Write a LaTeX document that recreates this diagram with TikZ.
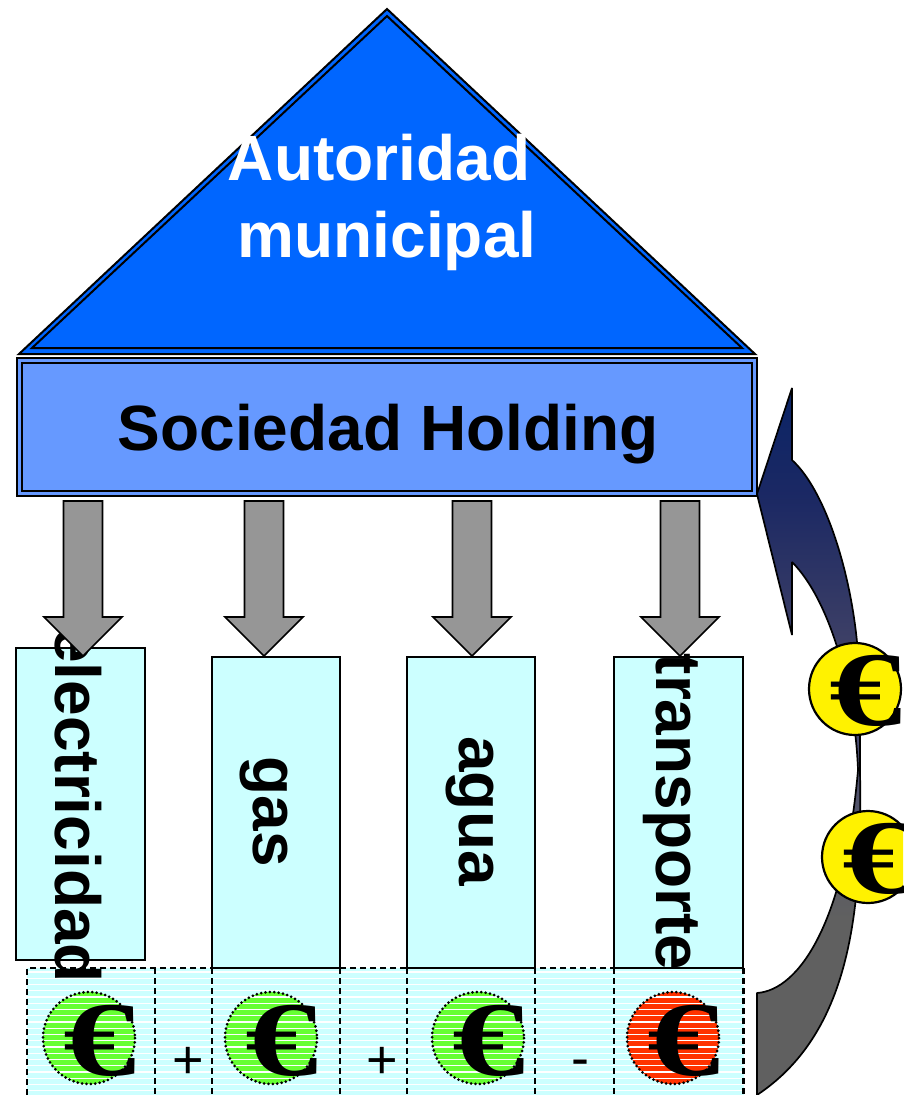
\documentclass[tikz,border=0pt]{standalone}
\usepackage{fontspec}
\setmainfont{Liberation Sans}
\newfontfamily\eurofont{Liberation Serif}
\definecolor{triblue}{HTML}{0066FF}
\definecolor{rectblue}{HTML}{6699FF}
\definecolor{boxcyan}{HTML}{CCFFFF}
\definecolor{arrowgray}{HTML}{969696}
\definecolor{coingreen}{HTML}{66FF33}
\definecolor{coinred}{HTML}{FF3300}
\pgfdeclareverticalshading{curveshade}{100bp}{
  rgb(0bp)=(0.376,0.376,0.376);
  rgb(25bp)=(0.376,0.376,0.376);
  rgb(37.5bp)=(0.376,0.376,0.376);
  rgb(50bp)=(0.29,0.30,0.44);
  rgb(57bp)=(0.24,0.25,0.40);
  rgb(67bp)=(0.11,0.16,0.39);
  rgb(75bp)=(0.04,0.14,0.40);
  rgb(100bp)=(0.04,0.14,0.40)}
\newcommand{\blockarrow}[1]{%
  \draw[blockarrow] (#1-19.5,501) -- (#1+19.5,501) -- (#1+19.5,617) -- (#1+39,617) -- (#1,656) -- (#1-39,617) -- (#1-19.5,617) -- cycle;}
\tikzset{
  x=1pt,y=-1pt,
  blockarrow/.style={draw=black,fill=arrowgray,line width=1.7pt,line join=miter},
  servicebox/.style={draw=black,fill=boxcyan,line width=1.4pt},
  big/.style={font=\fontsize{64}{74}\selectfont\bfseries},
  vert/.style={big,rotate=-90,anchor=base,inner sep=0pt},
  euro/.style={font=\eurofont\fontsize{106}{106}\selectfont\bfseries,inner sep=0pt,xscale=1.38},
  dashline/.style={draw=black,line width=1.6pt,dash pattern=on 6pt off 4pt},
  coinring/.style={draw=black,line width=3pt,dash pattern=on 0pt off 4.4pt,line cap=round},
  yellowcoin/.style={circle,draw=black,fill=yellow,line width=2.2pt,minimum size=92pt,inner sep=0pt},
  sign/.style={font=\fontsize{54}{54}\selectfont,inner sep=0pt,anchor=base},
  doubleline/.style={draw=black,line width=2pt,line join=miter},
  curveline/.style={line width=1.7pt,line join=bevel},
}
\begin{document}
\begin{tikzpicture}
\useasboundingbox (0,0) rectangle (903,1095);
\clip (0,0) rectangle (903,1095);
% curved arrow
\path[shading=curveshade] (757,494) -- (792,388) -- (792,460)
  .. controls (825,490) and (850,570) .. (857,642)
  .. controls (860,690) and (860,730) .. (860,770)
  .. controls (862,900) and (855,1030) .. (757,1095)
  -- (757,993)
  .. controls (800,990) and (845,920) .. (858,770)
  .. controls (855,690) and (830,600) .. (792,562)
  -- (792,635) -- cycle;
\draw[curveline] (757,494) -- (792,388) -- (792,460)
  .. controls (825,490) and (850,570) .. (857,642)
  .. controls (860,690) and (860,730) .. (860,770)
  .. controls (862,900) and (855,1030) .. (757,1095)
  -- (757,993)
  .. controls (800,990) and (845,920) .. (858,770)
  .. controls (855,690) and (830,600) .. (792,562)
  -- (792,635) -- cycle;
% roof
\draw[doubleline,fill=triblue] (387,9) -- (755,354) -- (19,354) -- cycle;
\draw[doubleline] (387,16) -- (742,348) -- (32,348) -- cycle;
\node[big,white,inner sep=0pt,anchor=base] (autoridad) at (379,180) {Autoridad};
\node[big,white,inner sep=0pt,anchor=base] (municipal) at (387,257) {municipal};
% holding
\draw[doubleline,fill=rectblue] (17,358) rectangle (757,496);
\draw[doubleline] (22,363) rectangle (752,491);
\node[big,inner sep=0pt,anchor=base] (holding) at (388,450) {Sociedad Holding};
% bottom band
\fill[boxcyan] (27,968) rectangle (744,1095);
\fill[coingreen] (89,1038) circle (46);
\fill[coingreen] (271,1038) circle (46);
\fill[coingreen] (478,1038) circle (46);
\fill[coinred] (673,1038) circle (46);
\foreach \yy in {972,978.25,...,1095} {\draw[white,line width=1.3pt] (27,\yy) -- (744,\yy);}
\draw[coinring] (89,1038) circle (46);
\draw[coinring] (271,1038) circle (46);
\draw[coinring] (478,1038) circle (46);
\draw[coinring] (673,1038) circle (46);
\foreach \px/\nm in {100/a,282/b,489/c,684/d} {\node[euro] (e\nm) at (\px,1041) {€};}
\node[sign] (plusa) at (188,1078) {+};
\node[sign] (plusb) at (382,1078) {+};
\node[sign] (minus) at (580,1076) {-};
% service boxes
\draw[servicebox] (16,648) rectangle (145,960);
\draw[servicebox] (212,657) rectangle (340,968);
\draw[servicebox] (407,657) rectangle (535,968);
\draw[servicebox] (614,657) rectangle (743,968);
\node[vert] (elec) at (55,805) {electricidad};
\node[vert] (gas) at (253,812) {gas};
\node[vert] (agua) at (459,811) {agua};
\node[vert] (transporte) at (656,812) {transporte};
% dashed frame
\draw[dashline] (27,1095) -- (27,968) -- (614,968);
\foreach \xx in {155,212,340,407,535,614} {\draw[dashline] (\xx,968) -- (\xx,1095);}
\draw[dashline,line width=2.8pt] (743.5,968) -- (743.5,1095);
% arrows
\blockarrow{83}
\blockarrow{264}
\blockarrow{472}
\blockarrow{680}
% yellow coins
\node[yellowcoin] (c1) at (855,689) {};
\node[euro] (e1) at (866,691) {€};
\node[yellowcoin] (c2) at (868,857) {};
\node[euro] (e2) at (879,859) {€};
\end{tikzpicture}
\end{document}
